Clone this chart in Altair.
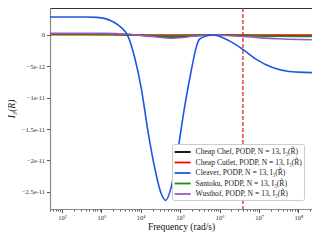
import altair as alt
import pandas as pd

series_names = [
    "Cheap Chef, PODP, N = 13, I₃(R̃)",
    "Cheap Cutlet, PODP, N = 13, I₃(R̃)",
    "Cleaver, PODP, N = 13, I₃(R̃)",
    "Santoku, PODP, N = 13, I₃(R̃)",
    "Wusthof, PODP, N = 13, I₃(R̃)",
]
series_colors = ["#000000", "#ff0000", "#1f55e6", "#1a8c1a", "#9b59c0"]

# log10 of frequency for the small-amplitude curves
small_logf = [1.7, 2.5, 3.0, 3.4, 3.7, 4.0, 4.3, 4.6, 4.8, 5.0, 5.3, 5.6, 5.83,
              6.2, 6.6, 7.0, 7.5, 8.0, 8.34]
chef_e13 = [1.5, 1.5, 1.4, 1.1, 0.5, -0.6, -1.8, -2.9, -3.2, -2.8, -1.3, -0.3, 0.0,
            -0.3, -0.8, -1.3, -1.7, -1.9, -2.0]
cutlet_e13 = [0.2, 0.2, 0.2, 0.15, 0.1, 0.0, -0.1, -0.15, -0.2, -0.15, -0.1, 0.0, 0.0,
              0.0, -0.05, -0.1, -0.1, -0.15, -0.15]
santoku_e13 = [1.0, 1.0, 0.9, 0.7, 0.3, -0.4, -1.0, -1.6, -1.8, -1.6, -0.8, -0.2, 0.0,
               -0.4, -1.0, -1.5, -2.0, -2.3, -2.4]
wusthof_e13 = [2.7, 2.7, 2.6, 2.0, 1.0, -1.0, -2.6, -4.5, -5.2, -4.6, -2.2, -0.5, 0.0,
               -0.9, -2.4, -4.3, -6.2, -7.3, -7.6]

# Cleaver curve
cleaver_logf = [1.7, 2.0, 2.3, 2.6, 2.885, 3.1, 3.257, 3.4, 3.51, 3.66, 3.846, 4.015,
                4.18, 4.35, 4.52, 4.63, 4.774, 4.94, 5.11, 5.28, 5.405, 5.49, 5.66,
                5.83, 6.25, 6.58, 6.92, 7.34, 7.765, 8.0, 8.34]
cleaver_e12 = [2.86, 2.86, 2.86, 2.85, 2.80, 2.6, 2.22, 1.7, 1.16, 0.0, -3.6, -8.57,
               -15.24, -21.06, -25.3, -26.35, -24.2, -18.4, -11.54, -5.71, -2.02, -0.68,
               -0.16, 0.0, -0.95, -2.27, -3.86, -5.19, -5.82, -5.92, -6.0]

vline_freq = [3.9e6]
y_ticks = [0, -5e-12, -1e-11, -1.5e-11, -2e-11, -2.5e-11]

rows = []
for name, vals in [(series_names[0], chef_e13), (series_names[1], cutlet_e13),
                   (series_names[3], santoku_e13), (series_names[4], wusthof_e13)]:
    for lf, v in zip(small_logf, vals):
        rows.append({"series": name, "freq": 10 ** lf, "value": v * 1e-13})
for lf, v in zip(cleaver_logf, cleaver_e12):
    rows.append({"series": series_names[2], "freq": 10 ** lf, "value": v * 1e-12})
df = pd.DataFrame(rows)

x_tick_vals = [m * 10 ** k for k in range(1, 9) for m in range(1, 10)
               if 50 <= m * 10 ** k <= 2.2e8]

FONT = "Liberation Serif"
is_major = "abs(log(datum.value)/LN10 - round(log(datum.value)/LN10)) < 0.001"

x_scale = alt.Scale(type="log", domain=[50, 2.2e8], nice=False)
y_scale = alt.Scale(domain=[-2.773e-11, 4.29e-12], nice=False, zero=False)

lines = alt.Chart(df).mark_line(strokeWidth=1.6, interpolate="monotone").encode(
    x=alt.X("freq:Q", scale=x_scale,
            axis=alt.Axis(title="Frequency (rad/s)", values=x_tick_vals,
                          labelExpr=is_major + " ? '10' + ['⁰','¹','²','³','⁴','⁵','⁶','⁷','⁸','⁹'][round(log(datum.value)/LN10)] : ''",
                          labelOverlap=False, labelFlush=False, grid=False,
                          tickSize={"condition": {"test": is_major, "value": 3.5}, "value": 2},
                          labelPadding=2, titleY=20.5, titleBaseline="alphabetic")),
    y=alt.Y("value:Q", scale=y_scale,
            axis=alt.Axis(title="I₃(R̃)", values=y_ticks, grid=False,
                          labelExpr="datum.value == 0 ? '0' : replace(format(datum.value, '.1e'), '.0e', 'e')",
                          tickSize=3.5, labelPadding=2, titlePadding=5,
                          titleFontStyle="italic")),
    color=alt.Color("series:N",
                    scale=alt.Scale(domain=series_names, range=series_colors),
                    legend=alt.Legend(title=None, orient="none", legendX=122, legendY=136,
                                      symbolType="M-1.6,0H1.6", symbolSize=100,
                                      symbolStrokeWidth=1.8, symbolOffset=2.6,
                                      labelFont=FONT,
                                      labelFontSize=7.6, labelColor="#222",
                                      rowPadding=0.5, padding=2, labelOffset=7,
                                      strokeColor="#cccccc", fillColor="white",
                                      cornerRadius=2)),
)

vline = alt.Chart(pd.DataFrame({"freq": vline_freq})).mark_rule(
    color="#d81818", strokeDash=[4, 2], strokeWidth=1.2).encode(x="freq:Q")

chart = alt.layer(lines, vline).properties(
    width=262, height=201,
    autosize=alt.AutoSizeParams(type="none"),
    padding={"left": 42, "top": 0, "right": 0, "bottom": 23},
).configure_view(stroke="#333333", strokeWidth=1).configure_axis(
    labelFont=FONT, labelFontSize=6.5, labelColor="#333333",
    titleFont=FONT, titleFontSize=9.5, titleFontWeight="normal", titleColor="#111111",
    domainColor="#888888", domainWidth=1.2, tickColor="#555555",
)

chart.save("out.html", embed_options={"renderer": "svg", "actions": False})
